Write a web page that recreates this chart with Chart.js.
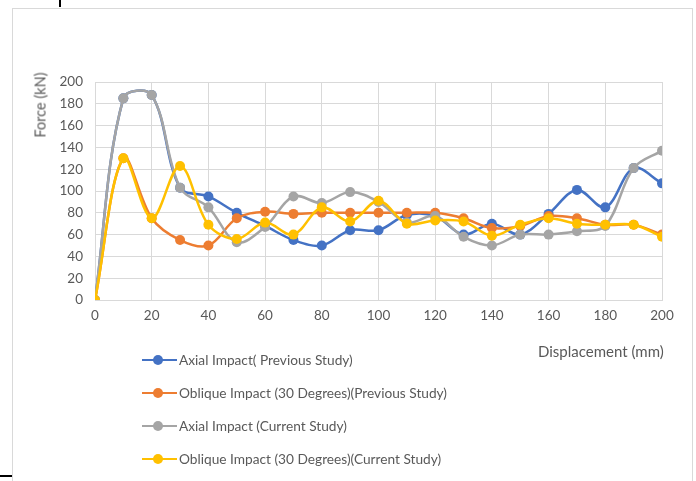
<!DOCTYPE html>
<html>
<head>
<meta charset="utf-8">
<script src="https://cdn.jsdelivr.net/npm/chart.js@4"></script>
<style>
  body { margin: 0; background: #fff; font-family: Lato, "Open Sans", sans-serif; }
  #wrap { position: relative; width: 696px; height: 481px; overflow: hidden; }
  #frame { position: absolute; left: 12px; top: 8px; width: 679px; height: 490px; border: 1px solid #d9d9d9; }
  #chart { position: absolute; left: 0; top: 0; }
  .mark1 { position: absolute; left: 59px; top: 0; width: 2px; height: 7px; background: #000; }
  .mark2 { position: absolute; left: 0; top: 475px; width: 12px; height: 2px; background: #000; }
  .ytitle { position: absolute; left: 40px; top: 105px; transform: translate(-50%, -50%) rotate(-90deg); color: #595959; font-size: 14.5px; white-space: nowrap; }
  .xtitle { position: absolute; left: 538px; top: 351px; transform: translateY(-50%); color: #595959; font-size: 15px; white-space: nowrap; }
  #legend { position: absolute; left: 142px; top: 343px; }
  .item { display: flex; align-items: center; height: 33px; color: #595959; font-size: 13.7px; white-space: nowrap; }
  .sym { position: relative; width: 35px; height: 10px; margin-right: 2px; }
  .sym .ln { position: absolute; left: 0; top: 4px; width: 35px; height: 2.5px; }
  .sym .dot { position: absolute; left: 11px; top: 0; width: 10px; height: 10px; border-radius: 50%; }
</style>
</head>
<body>
<div id="wrap">
  <div id="frame"></div>
  <div class="mark1"></div>
  <div class="mark2"></div>
  <canvas id="chart" width="696" height="481"></canvas>
  <div class="ytitle">Force (kN)</div>
  <div class="xtitle">Displacement (mm)</div>
  <div id="legend"></div>
</div>
<script>
// Displacement (mm)
const displacement = [0, 10, 20, 30, 40, 50, 60, 70, 80, 90, 100, 110, 120, 130, 140, 150, 160, 170, 180, 190, 200];

// Force (kN) per series
const axialPrevious   = [0, 185, 188, 103, 95, 80, 68, 55, 50, 64, 64, 78, 77, 60, 70, 60, 79, 101, 85, 121, 107];
const obliquePrevious = [0, 130, 75, 55, 50, 75, 81, 79, 80, 80, 80, 80, 80, 75, 66, 68, 77, 75, 69, 69, 60];
const axialCurrent    = [0, 185, 188, 103, 85, 53, 67, 95, 89, 99, 90, 71, 77, 58, 50, 60, 60, 63, 68, 121, 137];
const obliqueCurrent  = [0, 130, 75, 123, 69, 56, 71, 60, 85, 72, 91, 70, 73, 72, 59, 69, 75, 70, 69, 69, 58];

const seriesNames = [
  "Axial Impact( Previous Study)",
  "Oblique Impact (30 Degrees)(Previous Study)",
  "Axial Impact (Current Study)",
  "Oblique Impact (30 Degrees)(Current Study)"
];
const seriesColors = ["#4472C4", "#ED7D31", "#A5A5A5", "#FFC000"];
const seriesValues = [axialPrevious, obliquePrevious, axialCurrent, obliqueCurrent];

const xTicks = [0, 20, 40, 60, 80, 100, 120, 140, 160, 180, 200];
const yTicks = [0, 20, 40, 60, 80, 100, 120, 140, 160, 180, 200];

const datasets = seriesValues.map((vals, i) => ({
  label: seriesNames[i],
  data: vals.map((v, j) => ({ x: displacement[j], y: v })),
  borderColor: seriesColors[i],
  backgroundColor: seriesColors[i],
  borderWidth: 2.5,
  pointRadius: 5,
  pointBorderWidth: 0,
  tension: 0.35,
  order: 4 - i
}));

const tickFont = { family: "Lato, 'Open Sans', sans-serif", size: 13.5 };

new Chart(document.getElementById("chart"), {
  type: "line",
  data: { datasets },
  options: {
    responsive: false,
    animation: false,
    layout: { padding: { top: 82, right: 34, bottom: 151, left: 0 } },
    plugins: { legend: { display: false }, tooltip: { enabled: false } },
    scales: {
      x: {
        type: "linear",
        min: 0, max: 200,
        afterBuildTicks: s => { s.ticks = xTicks.map(v => ({ value: v })); },
        afterFit: s => { s.height = 30; },
        ticks: { color: "#595959", font: tickFont, padding: 8, maxRotation: 0 },
        grid: { color: "#d9d9d9", lineWidth: 1, drawTicks: false },
        border: { color: "#d9d9d9" }
      },
      y: {
        min: 0, max: 200,
        afterBuildTicks: s => { s.ticks = yTicks.map(v => ({ value: v })); },
        afterFit: s => { s.width = 95; },
        ticks: { color: "#595959", font: tickFont, padding: 12 },
        grid: { color: "#d9d9d9", lineWidth: 1, drawTicks: false },
        border: { color: "#d9d9d9" }
      }
    }
  }
});

// Legend, one row per series
const legend = document.getElementById("legend");
seriesNames.forEach((name, i) => {
  legend.innerHTML += `<div class="item"><span class="sym"><span class="ln" style="background:${seriesColors[i]}"></span><span class="dot" style="background:${seriesColors[i]}"></span></span>${name}</div>`;
});
</script>
</body>
</html>
